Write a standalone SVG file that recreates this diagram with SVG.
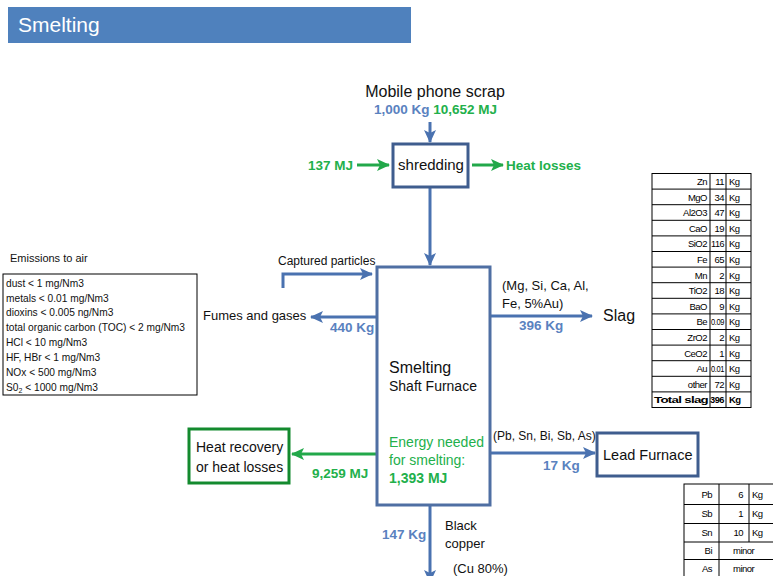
<svg xmlns="http://www.w3.org/2000/svg" width="773" height="576" viewBox="0 0 773 576">
<style>
text{font-family:"Liberation Sans",Arial,sans-serif;fill:#111}
.blue{fill:#5a82bf;font-weight:bold}
.green{fill:#22b04b}
.gb{fill:#22b04b;font-weight:bold}
.bl{stroke:#4a72b0;stroke-width:3;fill:none}
.gl{stroke:#22a84a;stroke-width:3;fill:none}
.tb{fill:#fff;stroke:#000;stroke-width:1}
.tl{stroke:#000;stroke-width:1}
.t9 text{font-size:9.5px;letter-spacing:-0.5px;fill:#000}
</style>
<defs>
<marker id="ab" markerUnits="userSpaceOnUse" markerWidth="14" markerHeight="12" refX="12" refY="6" orient="auto"><path d="M0,0 L13,6 L0,12 L3,6 z" fill="#4a72b0"/></marker>
<marker id="ag" markerUnits="userSpaceOnUse" markerWidth="14" markerHeight="12" refX="12" refY="6" orient="auto"><path d="M0,0 L13,6 L0,12 L3,6 z" fill="#22a84a"/></marker>
</defs>
<g id="title">
<rect x="8" y="7" width="403" height="36" fill="#4f81bd"/>
<text x="18" y="32" style="font-size:21px;fill:#fff">Smelting</text>
</g>
<g id="connectors">
<line class="bl" x1="430" y1="122" x2="430" y2="142" marker-end="url(#ab)"/>
<line class="gl" x1="357" y1="165" x2="389" y2="165" marker-end="url(#ag)"/>
<line class="gl" x1="472" y1="165" x2="503" y2="165" marker-end="url(#ag)"/>
<line class="bl" x1="430" y1="188" x2="430" y2="265" marker-end="url(#ab)"/>
<path class="bl" d="M283,288 V274 H372" marker-end="url(#ab)"/>
<line class="bl" x1="377" y1="317" x2="311" y2="317" marker-end="url(#ab)"/>
<line class="bl" x1="490" y1="316" x2="592" y2="316" marker-end="url(#ab)"/>
<line class="gl" x1="377" y1="454" x2="292" y2="454" marker-end="url(#ag)"/>
<line class="bl" x1="490" y1="453" x2="595" y2="453" marker-end="url(#ab)"/>
<line class="bl" x1="430" y1="506" x2="430" y2="582" marker-end="url(#ab)"/>
</g>
<g id="scrap">
<text x="435" y="97" text-anchor="middle" style="font-size:16px">Mobile phone scrap</text>
<text x="374" y="114" style="font-size:13.5px"><tspan class="blue">1,000 Kg</tspan><tspan class="gb"> 10,652 MJ</tspan></text>
</g>
<g id="shredding">
<rect x="393" y="144" width="75" height="43" fill="#fff" stroke="#3f5d8e" stroke-width="3"/>
<text x="431" y="170" text-anchor="middle" style="font-size:15px">shredding</text>
<text x="308" y="170" class="gb" style="font-size:13.5px">137 MJ</text>
<text x="506" y="170" class="gb" style="font-size:13.5px">Heat losses</text>
</g>
<g id="smelting">
<rect x="377" y="267" width="113" height="238" fill="#fff" stroke="#4f6fa3" stroke-width="3"/>
<text x="389" y="373" style="font-size:16px">Smelting</text>
<text x="389" y="391" style="font-size:14px">Shaft Furnace</text>
<text x="389" y="447" class="green" style="font-size:14px">Energy needed</text>
<text x="389" y="465" class="green" style="font-size:14px">for smelting:</text>
<text x="389" y="483" class="gb" style="font-size:14px">1,393 MJ</text>
</g>
<g id="captured">
<text x="278" y="265" style="font-size:12px">Captured particles</text>
</g>
<g id="fumes">
<text x="203" y="320" style="font-size:13px">Fumes and gases</text>
<text x="330" y="332" class="blue" style="font-size:13.5px">440 Kg</text>
</g>
<g id="emissions">
<text x="10" y="262" style="font-size:11px">Emissions to air</text>
<rect class="tb" x="3" y="274" width="194" height="121"/>
<g style="font-size:10.2px">
<text x="6" y="287">dust &lt; 1 mg/Nm3</text>
<text x="6" y="302">metals &lt; 0.01 mg/Nm3</text>
<text x="6" y="316">dioxins &lt; 0.005 ng/Nm3</text>
<text x="6" y="331">total organic carbon (TOC) &lt; 2 mg/Nm3</text>
<text x="6" y="346">HCl &lt; 10 mg/Nm3</text>
<text x="6" y="361">HF, HBr &lt; 1 mg/Nm3</text>
<text x="6" y="376">NOx &lt; 500 mg/Nm3</text>
<text x="6" y="391">S0<tspan style="font-size:7px" dy="2">2</tspan><tspan dy="-2"> &lt; 1000 mg/Nm3</tspan></text>
</g>
</g>
<g id="slag">
<text x="502" y="290" style="font-size:13px">(Mg, Si, Ca, Al,</text>
<text x="502" y="308" style="font-size:13px">Fe, 5%Au)</text>
<text x="519" y="330" class="blue" style="font-size:13.5px">396 Kg</text>
<text x="603" y="321" style="font-size:16px">Slag</text>
</g>
<g id="slag-table" class="t9">
<rect class="tb" x="652" y="173.5" width="99" height="234"/>
<line class="tl" x1="710" y1="173.5" x2="710" y2="407.5"/>
<line class="tl" x1="726" y1="173.5" x2="726" y2="407.5"/>
<path class="tl" d="M652,189.1H751M652,204.7H751M652,220.3H751M652,235.9H751M652,251.5H751M652,267.1H751M652,282.7H751M652,298.3H751M652,313.9H751M652,329.5H751M652,345.1H751M652,360.7H751M652,376.3H751M652,391.9H751"/>
<g text-anchor="end">
<text x="707" y="185">Zn</text><text x="724" y="185">11</text>
<text x="707" y="200.6">MgO</text><text x="724" y="200.6">34</text>
<text x="707" y="216.2">Al2O3</text><text x="724" y="216.2">47</text>
<text x="707" y="231.8">CaO</text><text x="724" y="231.8">19</text>
<text x="707" y="247.4">SiO2</text><text x="724" y="247.4" textLength="13" lengthAdjust="spacingAndGlyphs">116</text>
<text x="707" y="263">Fe</text><text x="724" y="263">65</text>
<text x="707" y="278.6">Mn</text><text x="724" y="278.6">2</text>
<text x="707" y="294.2">TiO2</text><text x="724" y="294.2">18</text>
<text x="707" y="309.8">BaO</text><text x="724" y="309.8">9</text>
<text x="707" y="325.4">Be</text><text x="724" y="325.4" textLength="13" lengthAdjust="spacingAndGlyphs">0.09</text>
<text x="707" y="341">ZrO2</text><text x="724" y="341">2</text>
<text x="707" y="356.6">CeO2</text><text x="724" y="356.6">1</text>
<text x="707" y="372.2">Au</text><text x="724" y="372.2" textLength="13" lengthAdjust="spacingAndGlyphs">0.01</text>
<text x="707" y="387.8">other</text><text x="724" y="387.8">72</text>
<text x="708" y="403.4" font-weight="bold" textLength="54" lengthAdjust="spacingAndGlyphs">Total slag</text><text x="724" y="403.4" font-weight="bold" textLength="14" lengthAdjust="spacingAndGlyphs">396</text>
</g>
<g>
<text x="729" y="185">Kg</text><text x="729" y="200.6">Kg</text><text x="729" y="216.2">Kg</text><text x="729" y="231.8">Kg</text><text x="729" y="247.4">Kg</text><text x="729" y="263">Kg</text><text x="729" y="278.6">Kg</text><text x="729" y="294.2">Kg</text><text x="729" y="309.8">Kg</text><text x="729" y="325.4">Kg</text><text x="729" y="341">Kg</text><text x="729" y="356.6">Kg</text><text x="729" y="372.2">Kg</text><text x="729" y="387.8">Kg</text><text x="729" y="403.4" font-weight="bold">Kg</text>
</g>
</g>
<g id="heat-recovery">
<rect x="189" y="429" width="100" height="54" fill="#fff" stroke="#138a2e" stroke-width="3"/>
<text x="196" y="452" style="font-size:14px">Heat recovery</text>
<text x="196" y="472" style="font-size:14px">or heat losses</text>
<text x="312" y="478" class="gb" style="font-size:13.5px">9,259 MJ</text>
</g>
<g id="lead">
<text x="493" y="440" style="font-size:12px">(Pb, Sn, Bi, Sb, As)</text>
<text x="543" y="470" class="blue" style="font-size:13.5px">17 Kg</text>
<rect x="597" y="433" width="101" height="43" fill="#fff" stroke="#3f5d8e" stroke-width="3"/>
<text x="603" y="460" style="font-size:14.5px">Lead Furnace</text>
</g>
<g id="lead-table" class="t9">
<rect class="tb" x="684" y="484" width="95" height="100"/>
<line class="tl" x1="719" y1="484" x2="719" y2="584"/>
<line class="tl" x1="749" y1="484" x2="749" y2="542"/>
<path class="tl" d="M684,504.5H773M684,523.5H773M684,542H773M684,559.5H773"/>
<g text-anchor="end">
<text x="712" y="498">Pb</text><text x="743" y="498">6</text>
<text x="712" y="517">Sb</text><text x="743" y="517">1</text>
<text x="712" y="536">Sn</text><text x="743" y="536">10</text>
<text x="712" y="554">Bi</text>
<text x="712" y="572">As</text>
</g>
<text x="752" y="498">Kg</text><text x="752" y="517">Kg</text><text x="752" y="536">Kg</text>
<text x="733" y="554">minor</text><text x="733" y="572">minor</text>
</g>
<g id="black-copper">
<text x="382" y="539" class="blue" style="font-size:13.5px">147 Kg</text>
<text x="445" y="530" style="font-size:13px">Black</text>
<text x="445" y="548" style="font-size:13px">copper</text>
<text x="453" y="573" style="font-size:13px">(Cu 80%)</text>
</g>
</svg>
